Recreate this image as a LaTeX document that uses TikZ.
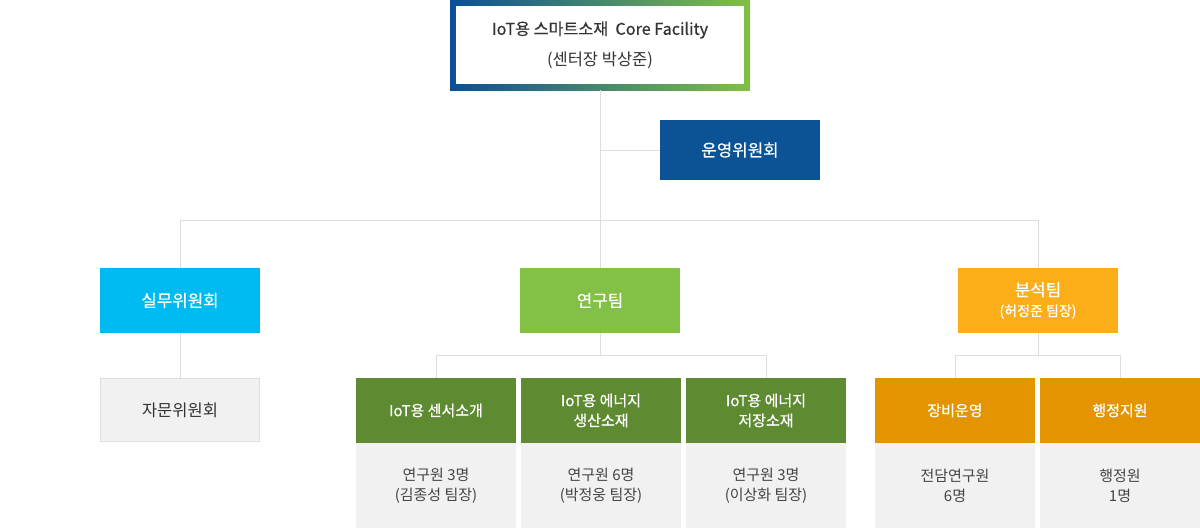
\documentclass[tikz,border=0pt]{standalone}
\usepackage{fontspec}
\setmainfont{Noto Sans CJK KR}
\newfontfamily\medfont[FakeBold=0.6]{Noto Sans CJK KR}
\definecolor{cblue}{HTML}{0B5394}
\definecolor{cgradL}{HTML}{0A4F97}
\definecolor{cgradR}{HTML}{82BF44}
\definecolor{ccyan}{HTML}{00BBF1}
\definecolor{cgreen}{HTML}{83C046}
\definecolor{cdgreen}{HTML}{5E8B32}
\definecolor{cyellow}{HTML}{FBAE17}
\definecolor{corange}{HTML}{E39400}
\definecolor{cgray}{HTML}{F1F1F1}
\definecolor{cline}{HTML}{DDDDDD}
\definecolor{ctext}{HTML}{333333}
\definecolor{cgtext}{HTML}{444444}
\begin{document}
\begin{tikzpicture}[x=1pt,y=-1pt,
  box/.style={anchor=north west,inner sep=0pt,outer sep=0pt,minimum width=160pt,align=center,text=white,font=\medfont\fontsize{15}{20}\selectfont},
  head/.style={box,minimum height=65pt},
  big/.style={font=\medfont\fontsize{16.8}{20}\selectfont},
  sub/.style={box,minimum height=85pt,fill=cgray,text=cgtext,font=\fontsize{15}{20}\selectfont},
  conn/.style={draw=cline,line width=1pt}]
\useasboundingbox (0,0) rectangle (1200,528);
% top box
\shade[left color=cgradL,right color=cgradR] (450,0) rectangle (750,90);
\node[anchor=north west,inner sep=0pt,outer sep=0pt,fill=white,minimum width=288pt,minimum height=78pt] (top) at (456,6) {};
\node[text=ctext,font=\medfont\fontsize{16.2}{20}\selectfont] (t1) at (600,30) {IoT용 스마트소재\ \ Core Facility};
\node[text=ctext,font=\fontsize{16.5}{20}\selectfont] (t2) at (600,60) {(센터장 박상준)};
\coordinate (topb) at (600,90);
% operation committee
\node[head,big,minimum height=60pt,fill=cblue] (op) at (660,120) {운영위원회};
% connectors top level
\coordinate (j0) at (600,220);
\coordinate (jop) at (600,150);
\coordinate (jl) at (180,220);
\coordinate (jr) at (1038,220);
\node[head,big,fill=ccyan] (sil) at (100,268) {실무위원회};
\node[head,big,fill=cgreen] (yg) at (520,268) {연구팀};
\node[head,fill=cyellow,font=\medfont\fontsize{16.8}{22}\selectfont] (bs) at (958,268) {분석팀\\[-2pt]{\fontsize{14}{16}\selectfont (허정준 팀장)}};
\node[head,fill=cgray,draw=cline,line width=1pt,minimum width=159pt,minimum height=63pt,text=ctext,font=\fontsize{16.5}{20}\selectfont] (jm) at (100.5,378.5) {자문위원회};
\draw[conn] (topb) -- (yg.north);
\draw[conn] (jop) -- (op.west);
\draw[conn] (jl) -- (jr);
\draw[conn] (jl) -- (sil.north);
\draw[conn] (jr) -- (bs.north);
\draw[conn] (sil.south) -- (jm.north);
% research subteams
\node[head,fill=cdgreen] (g1) at (356,378) {IoT용 센서소개};
\node[head,fill=cdgreen] (g2) at (521,378) {IoT용 에너지\\생산소재};
\node[head,fill=cdgreen] (g3) at (686,378) {IoT용 에너지\\저장소재};
\node[sub] (s1) at (356,443) {연구원 3명\\(김종성 팀장)};
\node[sub] (s2) at (521,443) {연구원 6명\\(박정웅 팀장)};
\node[sub] (s3) at (686,443) {연구원 3명\\(이상화 팀장)};
\coordinate (yj) at (600,355);
\coordinate (yjl) at (436,355);
\coordinate (yjr) at (766,355);
\draw[conn] (yg.south) -- (yj);
\draw[conn] (yjl) -- (yjr);
\draw[conn] (yjl) -- (g1.north);
\draw[conn] (yjr) -- (g3.north);
% analysis subteams
\node[head,fill=corange] (o1) at (875,378) {장비운영};
\node[head,fill=corange] (o2) at (1040,378) {행정지원};
\node[sub] (p1) at (875,443) {전담연구원\\6명};
\node[sub] (p2) at (1040,443) {행정원\\1명};
\coordinate (bj) at (1038,355);
\coordinate (bjl) at (955,355);
\coordinate (bjr) at (1120,355);
\draw[conn] (bs.south) -- (bj);
\draw[conn] (bjl) -- (bjr);
\draw[conn] (bjl) -- (o1.north);
\draw[conn] (bjr) -- (o2.north);
\end{tikzpicture}
\end{document}
